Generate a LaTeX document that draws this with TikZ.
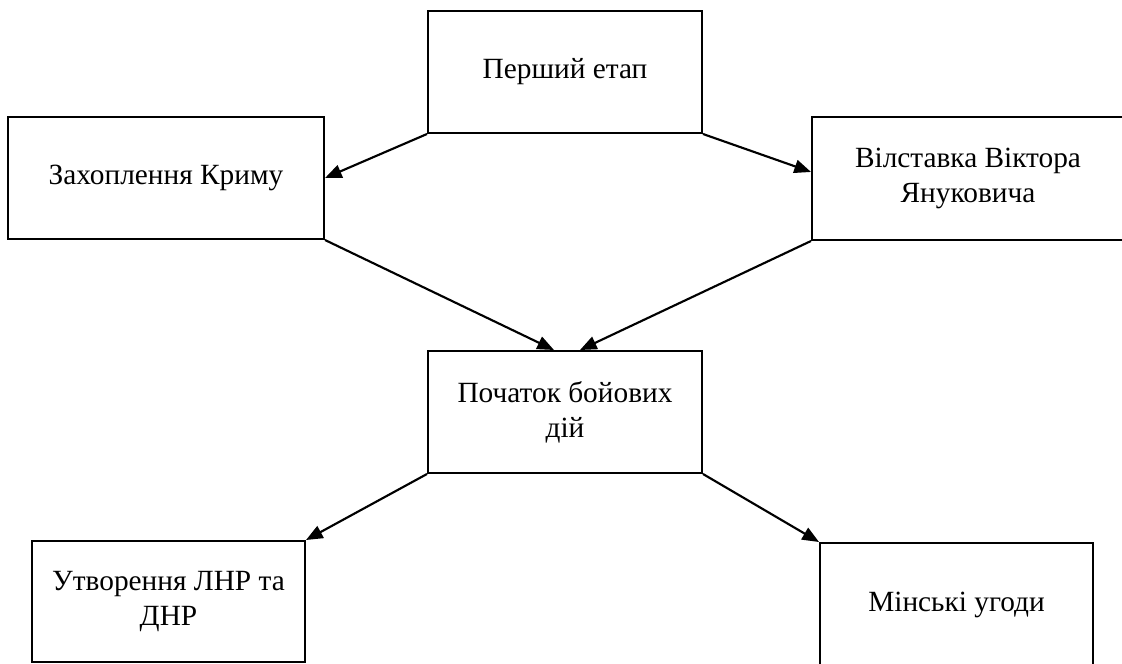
\documentclass[tikz,border=0pt]{standalone}
\usepackage{fontspec}
\setmainfont{Liberation Serif}
\usetikzlibrary{arrows.meta}
\begin{document}
\begin{tikzpicture}[x=0.75pt,y=-0.75pt,
  box/.style={draw=black,line width=1.5pt,rectangle,inner sep=0pt,align=center,
    font=\fontsize{22pt}{26.5pt}\selectfont},
  conn/.style={line width=1.6pt,-{Triangle[length=12.5pt,width=10pt]}}]
\useasboundingbox[fill=white] (0,0) rectangle (1122,664);
\node[box,minimum width=205.5pt,minimum height=91.5pt] (top) at (565,72) {Перший етап};
\node[box,minimum width=237pt,minimum height=91.5pt] (zakh) at (166,178) {Захоплення Криму};
\node[box,minimum width=234pt,minimum height=92.25pt] (vil) at (968,178.5) {Вілставка Віктора\\Януковича};
\node[box,minimum width=205.5pt,minimum height=91.5pt] (mid) at (565,412) {Початок бойових\\дій};
\node[box,minimum width=204.75pt,minimum height=90.75pt] (bl) at (168.5,601.5) {Утворення ЛНР та\\ДНР};
\node[box,minimum width=204.75pt,minimum height=93pt] (br) at (956.5,605) {Мінські угоди};
\draw[conn] (top.south west) -- (zakh.east);
\draw[conn] (top.south east) -- ([yshift=4.9pt]vil.west);
\draw[conn] (zakh.south east) -- ([xshift=-8.25pt]mid.north);
\draw[conn] (vil.south west) -- ([xshift=11.25pt]mid.north);
\draw[conn] (mid.south west) -- (bl.north east);
\draw[conn] (mid.south east) -- (br.north west);
\end{tikzpicture}
\end{document}
